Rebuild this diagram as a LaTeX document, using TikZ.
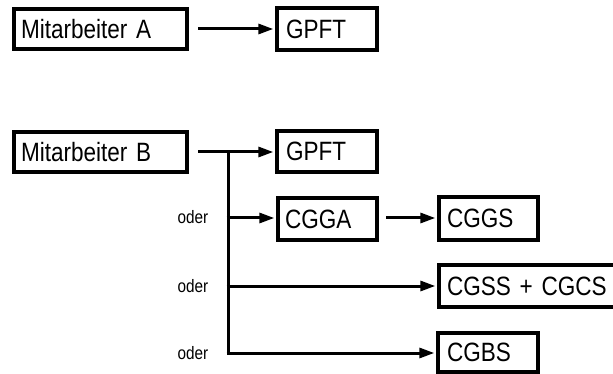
\documentclass[tikz,border=0pt]{standalone}
\usepackage{fontspec}
\setmainfont{Liberation Sans}
\newfontfamily\narrowfont[FakeStretch=0.85,WordSpace=0.8]{Liberation Sans}
\usetikzlibrary{arrows.meta}
\tikzset{
  box/.style={draw, line width=3.3pt, anchor=center, inner xsep=7pt, inner ysep=0pt, align=left,
              font=\narrowfont\fontsize{26.5}{30}\selectfont},
  conn/.style={line width=3pt, shorten >=2pt, -{Triangle[length=15pt,width=10pt]}},
  plain/.style={line width=3pt},
  oder/.style={font=\narrowfont\fontsize{18}{20}\selectfont, inner sep=0pt}
}
\begin{document}
\begin{tikzpicture}[x=1pt,y=-1pt]
\useasboundingbox (0,0) rectangle (613,374);
% boxes
\node[box, text width=173pt-14pt, minimum height=40pt] (ma) at (100.5,29) {Mitarbeiter A};
\node[box, text width=100pt-14pt, minimum height=42pt] (g1) at (327,29) {\hspace{2pt}GPFT};
\node[box, text width=173pt-14pt, minimum height=40pt] (mb) at (100.5,152) {Mitarbeiter B};
\node[box, text width=100pt-14pt, minimum height=41pt] (g2) at (327,151.5) {\hspace{2pt}GPFT};
\node[box, text width=99pt-14pt, minimum height=42pt] (cgga) at (327.5,219) {CGGA};
\node[box, text width=99pt-14pt, minimum height=43pt] (cggs) at (488.5,218.5) {\hspace{1pt}CGGS};
\node[box, text width=178pt-14pt, minimum height=42pt] (cgss) at (528,286) {\hspace{1pt}CGSS + CGCS};
\node[box, text width=100pt-14pt, minimum height=39pt] (cgbs) at (488,352.5) {\hspace{2pt}CGBS};
% helper coordinates
\coordinate (sa) at (198,29);
\coordinate (sb) at (198,152);
\coordinate (j1) at (228,152);
\coordinate (j2) at (228,218);
\coordinate (j3) at (228,286);
\coordinate (j4) at (228,353);
\coordinate (sc) at (386,218);
% connectors
\draw[conn] (sa) -- (ma.east -| g1.west);
\draw[conn] (sb) -- (sb -| g2.west);
\draw[plain] (j1) -- ([yshift=-1.5pt]j4);
\draw[conn] ([xshift=-1.5pt]j2) -- (j2 -| cgga.west);
\draw[conn] (sc) -- (sc -| cggs.west);
\draw[conn] ([xshift=-1.5pt]j3) -- (j3 -| cgss.west);
\draw[conn] ([xshift=-1.5pt]j4) -- (j4 -| cgbs.west);
% labels
\node[oder] (o1) at (193,217) {oder};
\node[oder] (o2) at (193,286) {oder};
\node[oder] (o3) at (193,353) {oder};
\end{tikzpicture}
\end{document}
